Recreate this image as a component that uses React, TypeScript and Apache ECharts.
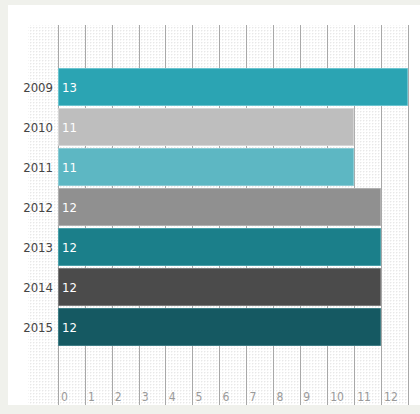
import React, { useEffect, useRef } from "react";
import * as echarts from "echarts";

const years = ["2009", "2010", "2011", "2012", "2013", "2014", "2015"];
const values = [13, 11, 11, 12, 12, 12, 12];
const barColors = ["#2ba4b3", "#bebebe", "#5db7c3", "#909090", "#1b7f8a", "#4b4b4b", "#155962"];
const borderColors = ["#6cc4cf", "#d6d6d6", "#8bcbd4", "#b0b0b0", "#4aa0a9", "#7a7a7a", "#3f7d85"];

const FONT = '"DejaVu Sans Condensed", sans-serif';

export default function App() {
  const ref = useRef<HTMLDivElement>(null);
  useEffect(() => {
    if (!ref.current) return;
    const chart = echarts.init(ref.current, null, { renderer: "svg" });
    const cv = document.createElement("canvas");
    cv.width = 3;
    cv.height = 3;
    const ctx = cv.getContext("2d")!;
    ctx.fillStyle = "#ffffff";
    ctx.fillRect(0, 0, 3, 3);
    ctx.fillStyle = "#e8e8e8";
    ctx.fillRect(0, 0, 1, 1);
    ctx.fillStyle = "#f5f5f5";
    ctx.fillRect(1, 0, 1, 1);
    ctx.fillRect(0, 1, 1, 1);

    chart.setOption({
      animation: false,
      backgroundColor: "#f0f1ec",
      graphic: [
        { type: "rect", z: -20, silent: true, shape: { x: 8, y: 5, width: 412, height: 400 }, style: { fill: "#ffffff" } },
        { type: "rect", z: -10, silent: true, shape: { x: 28, y: 25, width: 380, height: 380 }, style: { fill: { image: cv, repeat: "repeat" } as any } },
      ],
      grid: [
        { left: 58, right: 12, top: 67, height: 280, containLabel: false },
        { left: 58, right: 12, top: 25, bottom: 9, containLabel: false },
      ],
      xAxis: [
        { gridIndex: 0, type: "value", min: 0, max: 13, interval: 1, show: false },
        {
          gridIndex: 1,
          type: "value",
          min: 0,
          max: 13,
          interval: 1,
          axisLine: { show: false },
          axisTick: { show: false },
          splitLine: { show: true, lineStyle: { color: "#a8a8a8", width: 1 } },
          axisLabel: {
            inside: true,
            showMaxLabel: false,
            align: "left",
            verticalAlign: "bottom",
            margin: 2,
            padding: [0, 0, 0, 3],
            color: "#9a9a9a",
            fontSize: 12,
            fontFamily: FONT,
          },
        },
      ],
      yAxis: [
        {
          gridIndex: 0,
          type: "category",
          inverse: true,
          data: years,
          axisLine: { show: false },
          axisTick: { show: false },
          axisLabel: { color: "#444", fontSize: 13, fontFamily: FONT, margin: 5 },
        },
        { gridIndex: 1, type: "value", show: false },
      ],
      series: [
        {
          type: "bar",
          xAxisIndex: 0,
          yAxisIndex: 0,
          z: 5,
          barCategoryGap: "5%",
          data: values.map((v, i) => ({
            value: v,
            itemStyle: { color: barColors[i], borderColor: borderColors[i], borderWidth: 1 },
          })),
          label: {
            show: true,
            position: "insideLeft",
            offset: [-1, 0],
            color: "#ffffff",
            fontSize: 13,
            fontFamily: FONT,
          },
        },
      ],
    });
    return () => chart.dispose();
  }, []);
  return <div ref={ref} style={{ position: "fixed", left: 0, top: 0, width: 420, height: 414 }} />;
}
